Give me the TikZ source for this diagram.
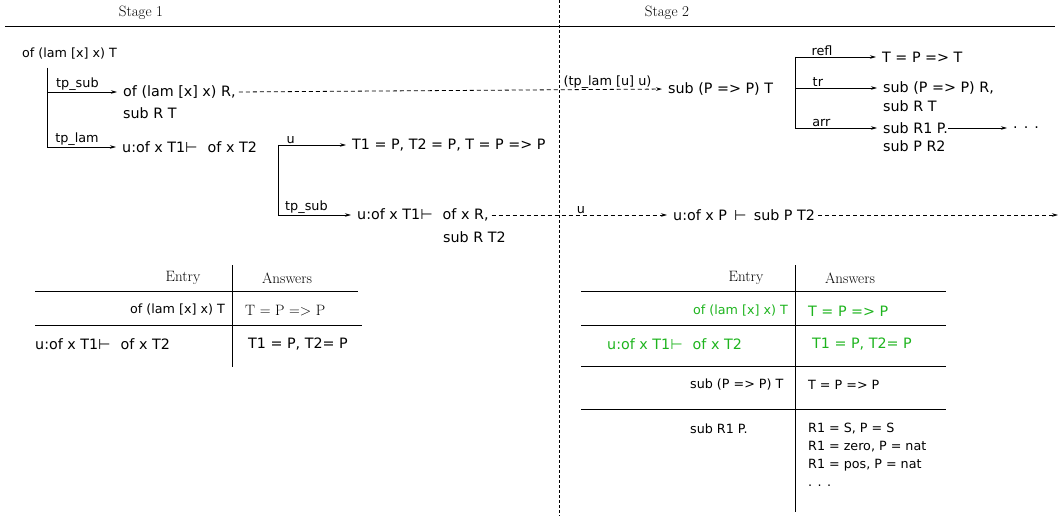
\documentclass[tikz,border=0pt]{standalone}
\usepackage{fontspec}
\setsansfont{DejaVu Sans}
\usetikzlibrary{arrows.meta}
\definecolor{grn}{RGB}{30,180,30}
\begin{document}
\begin{tikzpicture}[x=1pt,y=-1pt,
  every node/.style={inner sep=0pt, anchor=west},
  main/.style={font=\sffamily\fontsize{14.3}{16}\selectfont},
  small/.style={font=\sffamily\fontsize{12.7}{15}\selectfont},
  lab/.style={font=\sffamily\fontsize{12.8}{14}\selectfont, anchor=south, inner sep=1pt},
  ser/.style={font=\rmfamily\fontsize{15}{17}\selectfont},
  arr/.style={-{Stealth[length=6pt,width=3.5pt]}, shorten >=6pt, line width=0.8pt},
  darr/.style={arr, dash pattern=on 4pt off 3pt},
  rule/.style={line width=0.8pt}]
\useasboundingbox (0,0) rectangle (1061,516);

% header
\node[ser, anchor=center] (s1) at (141,13) {Stage 1};
\node[ser, anchor=center] (s2) at (667,13) {Stage 2};
\draw[rule] (5,26) -- (1055,26);
\draw[dash pattern=on 3pt off 2pt, line width=0.8pt] (559,0) -- (559,516);

% stage 1 tree
\node[small] (n0) at (22,54) {of (lam [x] x) T};
\coordinate (t0) at (47,68);
\node[main] (n1) at (123,92) {of (lam [x] x) R,};
\node[main] (n1b) at (123,113) {sub R T};
\node[main] (n2) at (122,147) {u:of x T1⊢\hspace{0.7em}of x T2};
\draw[arr] (t0) |- node[lab, pos=0.70] {tp\_sub} (n1.west);
\draw[arr] (t0) |- node[lab, pos=0.70] {tp\_lam} (n2.west);

\coordinate (bt) at (278,145);
\node[main] (n3) at (352,145) {T1 = P, T2 = P, T = P => P};
\node[main] (n4) at (357,215) {u:of x T1⊢\hspace{0.7em}of x R,};
\node[main] (n4b) at (443,237) {sub R T2};
\draw[arr] (bt) -- node[lab, pos=0.17] {u} (n3.west);
\draw[arr] (bt) |- node[lab, pos=0.68] {tp\_sub} (n4.west);

% stage 2 tree
\node[main] (n5) at (668,89) {sub (P => P) T};
\draw[darr, shorten <=3pt] (n1.east) -- node[lab, pos=0.86] {(tp\_lam [u] u)} (n5.west);
\node[main] (n6) at (673,215) {u:of x P\hspace{0.5em}⊢\hspace{0.5em}sub P T2};
\draw[darr, shorten <=3pt] (n4.east) -- node[lab, pos=0.5] {u} (n6.west);
\coordinate (cend) at (1058,215);
\draw[darr, shorten >=0pt, shorten <=3pt] (n6.east) -- (cend);

\node[main] (r1) at (882,57) {T = P => T};
\node[main] (r2) at (883,88) {sub (P => P) R,};
\node[main] (r2b) at (883,106) {sub R T};
\node[main] (r3) at (883,128) {sub R1 P.};
\node[main] (r3b) at (883,146) {sub P R2};
\node[main] (dots) at (1013,128) {. . .};
\coordinate (rt) at (795,57);
\draw[arr] (rt) -- node[lab, pos=0.31] {refl} (r1.west);
\draw[arr] (rt) |- node[lab, pos=0.63] {tr} (r2.west);
\draw[arr] (rt) |- node[lab, pos=0.65] {arr} (r3.west);
\draw[arr] (r3.east) -- (dots.west);

% left table
\draw[rule] (232,265) -- (232,367);
\draw[rule] (35,291) -- (358,291);
\draw[rule] (35,325) -- (362,325);
\node[ser, anchor=center] (le) at (183,278) {Entry};
\node[ser, anchor=center] (la) at (287,278) {Answers};
\node[small, anchor=east] (l1) at (225,310) {of (lam [x] x) T};
\node[ser] (l1a) at (245,311) {T = P => P};
\node[main] (l2) at (35,344) {u:of x T1⊢\hspace{0.7em}of x T2};
\node[main] (l2a) at (248,344) {T1 = P, T2= P};

% right table
\draw[rule] (795,265) -- (795,512);
\foreach \yy in {291,325,366,409} \draw[rule] (581,\yy) -- (946,\yy);
\node[ser, anchor=center] (re) at (746,278) {Entry};
\node[ser, anchor=center] (ra) at (850,278) {Answers};
\node[small, anchor=east, text=grn] (q1) at (788,311) {of (lam [x] x) T};
\node[main, text=grn] (q1a) at (808,311) {T = P => P};
\node[main, text=grn] (q2) at (607,344) {u:of x T1⊢\hspace{0.7em}of x T2};
\node[main, text=grn] (q2a) at (812,344) {T1 = P, T2= P};
\node[small] (q3) at (690,385) {sub (P => P) T};
\node[small] (q3a) at (808,385) {T = P => P};
\node[small] (q4) at (690,429) {sub R1 P.};
\node[small] (q4a) at (808,429) {R1 = S, P = S};
\node[small] (q4b) at (808,447) {R1 = zero, P = nat};
\node[small] (q4c) at (808,465) {R1 = pos, P = nat};
\node[small] (q4d) at (808,486) {. . .};
\end{tikzpicture}
\end{document}
